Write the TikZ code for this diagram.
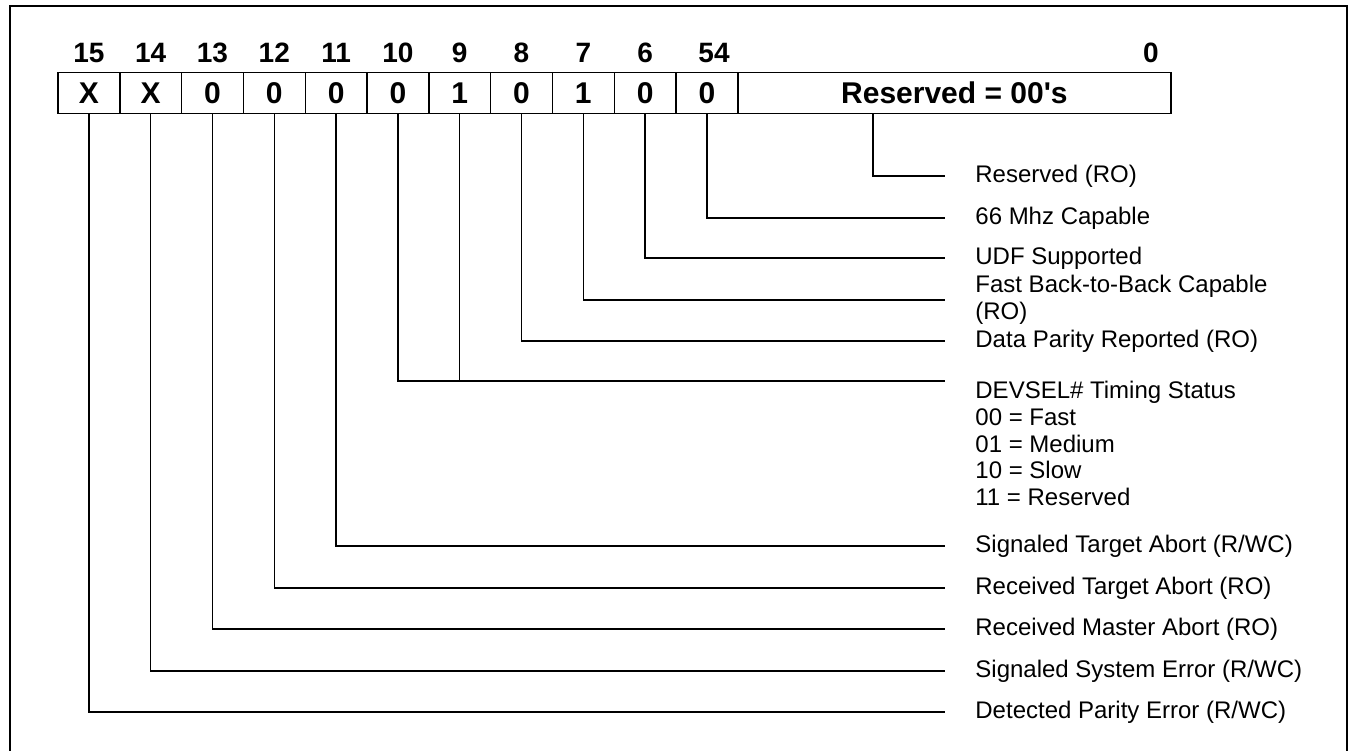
\documentclass[tikz,border=0pt]{standalone}
\usepackage{fontspec}
\setmainfont{Liberation Sans}
\tikzset{
  cell/.style={draw, line width=0.7pt, minimum width=30.9pt, minimum height=20.5pt, inner sep=0pt, font=\fontsize{15}{17}\selectfont\bfseries},
  bitno/.style={inner sep=0pt, font=\fontsize{14}{16}\selectfont\bfseries},
  lbl/.style={anchor=west, align=left, inner xsep=15pt, inner ysep=0pt, font=\fontsize{12}{13.3}\selectfont},
  wire/.style={line width=0.7pt}
}
\begin{document}
\begin{tikzpicture}[x=0.5pt,y=-0.5pt]
  \useasboundingbox (0,0) rectangle (1353,750);
  \draw[line width=1.1pt] (10,760) -- (10,6) -- (1347,6) -- (1347,760);
  \node[bitno] (n15) at (88.9,53) {15};
  \node[bitno] (n14) at (150.7,53) {14};
  \node[bitno] (n13) at (212.5,53) {13};
  \node[bitno] (n12) at (274.3,53) {12};
  \node[bitno] (n11) at (336.1,53) {11};
  \node[bitno] (n10) at (397.9,53) {10};
  \node[bitno] (n9) at (459.7,53) {9};
  \node[bitno] (n8) at (521.5,53) {8};
  \node[bitno] (n7) at (583.3,53) {7};
  \node[bitno] (n6) at (645.1,53) {6};
  \node[bitno] (n54) at (714,53) {54};
  \node[bitno] (n0) at (1151,53) {0};
  \node[cell] (b15) at (88.9,93) {X};
  \node[cell] (b14) at (150.7,93) {X};
  \node[cell] (b13) at (212.5,93) {0};
  \node[cell] (b12) at (274.3,93) {0};
  \node[cell] (b11) at (336.1,93) {0};
  \node[cell] (b10) at (397.9,93) {0};
  \node[cell] (b9) at (459.7,93) {1};
  \node[cell] (b8) at (521.5,93) {0};
  \node[cell] (b7) at (583.3,93) {1};
  \node[cell] (b6) at (645.1,93) {0};
  \node[cell] (b54) at (706.9,93) {0};
  \node[cell, minimum width=216.6pt] (res) at (954.4,93) {Reserved = 00\textquotesingle s};
  \coordinate (rtap) at (873,113.5);
  \node[lbl] (lres) at (945,176) {Reserved (RO)};
  \node[lbl] (l54) at (945,218) {66 Mhz Capable};
  \node[lbl] (l6) at (945,258) {UDF Supported};
  \node[lbl] (l7) at (945,300) {Fast Back-to-Back Capable\\(RO)};
  \node[lbl] (l8) at (945,341) {Data Parity Reported (RO)};
  \node[lbl, anchor=north west] (l9) at (945,381) {DEVSEL\# Timing Status\\00 = Fast\\01 = Medium\\10 = Slow\\11 = Reserved};
  \node[lbl] (l11) at (945,546) {Signaled Target Abort (R/WC)};
  \node[lbl] (l12) at (945,588) {Received Target Abort (RO)};
  \node[lbl] (l13) at (945,629) {Received Master Abort (RO)};
  \node[lbl] (l14) at (945,671) {Signaled System Error (R/WC)};
  \node[lbl] (l15) at (945,712) {Detected Parity Error (R/WC)};
  \draw[wire] (rtap) |- (lres.west);
  \draw[wire] (b54.south) |- (l54.west);
  \draw[wire] (b6.south) |- (l6.west);
  \draw[wire] (b7.south) |- (l7.west);
  \draw[wire] (b8.south) |- (l8.west);
  \draw[wire] (b9.south) |- (l9.north west);
  \draw[wire] (b10.south) |- (b9.south |- l9.north west);
  \draw[wire] (b11.south) |- (l11.west);
  \draw[wire] (b12.south) |- (l12.west);
  \draw[wire] (b13.south) |- (l13.west);
  \draw[wire] (b14.south) |- (l14.west);
  \draw[wire] (b15.south) |- (l15.west);
\end{tikzpicture}
\end{document}
